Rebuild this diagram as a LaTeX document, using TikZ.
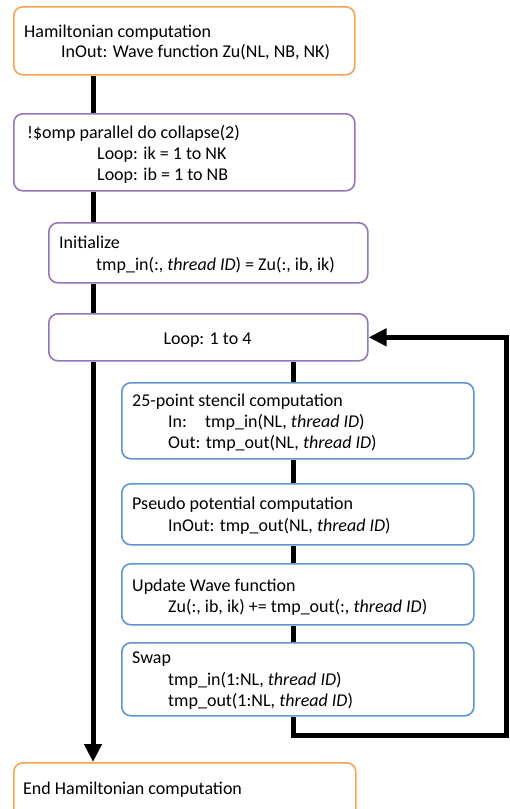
\documentclass[tikz,border=0pt]{standalone}
\usepackage{fontspec}
\setmainfont{Carlito}
\usetikzlibrary{arrows.meta}
\definecolor{orangeB}{HTML}{F9A553}
\definecolor{purpleB}{HTML}{9476BE}
\definecolor{blueB}{HTML}{5E95D0}
\tikzset{
  box/.style={draw, line width=1.6pt, rounded corners=9pt, anchor=north west, inner sep=0pt, fill=white},
  obox/.style={box, draw=orangeB},
  pbox/.style={box, draw=purpleB},
  bbox/.style={box, draw=blueB},
  txt/.style={anchor=base west, inner sep=0pt, font=\fontsize{18}{21}\selectfont},
  conn/.style={line width=5pt, black},
  arr/.style={conn, -{Triangle[length=18pt,width=17pt]}}
}
\begin{document}
\begin{tikzpicture}[x=1pt,y=-1pt]
\useasboundingbox (0,0) rectangle (510,809);
\clip (0,0) rectangle (510,809);
\fill[white] (0,0) rectangle (510,809);
\coordinate (cl) at (93,0);
\coordinate (cr) at (293,0);
\coordinate (loopbot) at (293,735);
\coordinate (loopright) at (506,735);
% boxes
\node[obox, minimum width=341pt, minimum height=68pt] (b1) at (13,6) {};
\node[pbox, minimum width=341pt, minimum height=77pt] (b2) at (13,113) {};
\node[pbox, minimum width=319pt, minimum height=60pt] (b3) at (48,222) {};
\node[pbox, minimum width=319pt, minimum height=47pt] (b4) at (48,313) {};
\node[bbox, minimum width=352pt, minimum height=76pt] (b5) at (121,382) {};
\node[bbox, minimum width=352pt, minimum height=61pt] (b6) at (121,483) {};
\node[bbox, minimum width=352pt, minimum height=61pt] (b7) at (121,563) {};
\node[bbox, minimum width=352pt, minimum height=73pt] (b8) at (121,642) {};
\node[obox, minimum width=342pt, minimum height=70pt] (b9) at (13,762) {};
% texts
\node[txt] (t1a) at (24,37) {Hamiltonian computation};
\node[txt] (t1b) at (61,57) {InOut: Wave function Zu(NL, NB, NK)};
\node[txt] (t2a) at (27,138) {!\$omp parallel do collapse(2)};
\node[txt] (t2b) at (97,159) {Loop: ik = 1 to NK};
\node[txt] (t2c) at (97,180) {Loop: ib = 1 to NB};
\node[txt] (t3a) at (59,248) {Initialize};
\node[txt] (t3b) at (96,270) {tmp\_in(:, \textit{thread ID}) = Zu(:, ib, ik)};
\node[txt, anchor=base] (t4) at (207.5,344) {Loop: 1 to 4};
\node[txt] (t5a) at (132,406) {25-point stencil computation};
\node[txt] (t5b) at (168,427) {\makebox[37pt][l]{In:}tmp\_in(NL, \textit{thread ID})};
\node[txt] (t5c) at (168,448) {Out: tmp\_out(NL, \textit{thread ID})};
\node[txt] (t6a) at (132,509) {Pseudo potential computation};
\node[txt] (t6b) at (168,531) {InOut: tmp\_out(NL, \textit{thread ID})};
\node[txt] (t7a) at (132,591) {Update Wave function};
\node[txt] (t7b) at (168,612) {Zu(:, ib, ik) += tmp\_out(:, \textit{thread ID})};
\node[txt] (t8a) at (132,663) {Swap};
\node[txt] (t8b) at (168,685) {tmp\_in(1:NL, \textit{thread ID})};
\node[txt] (t8c) at (168,706) {tmp\_out(1:NL, \textit{thread ID})};
\node[txt] (t9) at (23,794) {End Hamiltonian computation};
% connectors
\draw[conn] (b1.south -| cl) -- (b2.north -| cl);
\draw[conn] (b2.south -| cl) -- (b3.north -| cl);
\draw[conn] (b3.south -| cl) -- (b4.north -| cl);
\draw[arr] (b4.south -| cl) -- (b9.north -| cl);
\draw[conn] (b4.south -| cr) -- (b5.north -| cr);
\draw[conn] (b5.south -| cr) -- (b6.north -| cr);
\draw[conn] (b6.south -| cr) -- (b7.north -| cr);
\draw[conn] (b7.south -| cr) -- (b8.north -| cr);
\draw[arr] (b8.south -| cr) -- (loopbot) -- (loopright) -- (loopright |- b4.east) -- (b4.east);
\end{tikzpicture}
\end{document}
